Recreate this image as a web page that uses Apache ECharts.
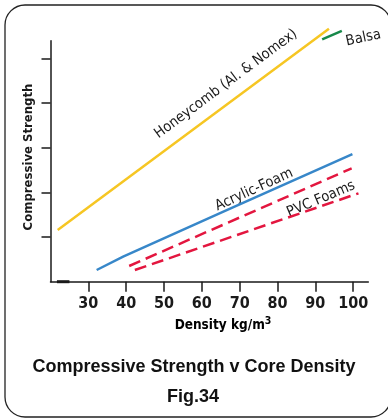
<!DOCTYPE html>
<html>
<head>
<meta charset="utf-8">
<script src="https://cdn.jsdelivr.net/npm/echarts@6/dist/echarts.min.js"></script>
<style>
html,body{margin:0;padding:0;background:#fff;}
#c{width:388px;height:420px;}
</style>
</head>
<body>
<div id="c"></div>
<script>
// ---- data (density kg/m3, relative compressive strength) ----
var xTicks = [30, 40, 50, 60, 70, 80, 90, 100];
var yTicks = [1, 2, 3, 4, 5];
var honeycomb = [[21.9, 1.16], [93.6, 5.67]];
var balsa = [[91.8, 5.43], [97.0, 5.62]];
var acrylic = [[32.2, 0.262], [39.2, 0.56], [65.7, 1.57], [99.8, 2.857]];
var pvcUpper = [[40.8, 0.352], [99.6, 2.54]];
var pvcLower = [[42.3, 0.262], [101.4, 1.98]];
var baseMark = [[21.7, 0], [25.0, 0]];
var lineLabels = [
  { text: 'Honeycomb (Al. & Nomex)', at: [66.4, 4.43], angle: 36.5 },
  { text: 'Acrylic-Foam', at: [73.8, 2.06], angle: 24.5 },
  { text: 'PVC Foams', at: [91.5, 1.85], angle: 23 },
  { text: 'Balsa', at: [102.7, 5.46], angle: 12 }
];
var titleText = 'Compressive Strength v Core Density';
var figText = 'Fig.34';
var xName = 'Density kg/m';
var yName = 'Compressive Strength';

var NARROW = "'Liberation Sans Narrow', 'DejaVu Sans Condensed', sans-serif";
var ARIAL = "'Liberation Sans', Arial, sans-serif";
var INK = '#1a1a1a';

var chart = echarts.init(document.getElementById('c'), null, { renderer: 'canvas' });

function lineSeries(data, color, type, width) {
  return {
    type: 'line', data: data, symbol: 'none', silent: true, clip: false,
    animation: false,
    lineStyle: { color: color, width: width || 2.5, type: type || 'solid', cap: 'butt' }
  };
}

var option = {
  animation: false,
  grid: { left: 50.5, top: 40.7, right: 19.7, bottom: 138.3, containLabel: false },
  xAxis: {
    type: 'value', min: 20, max: 104,
    axisLine: { show: true, lineStyle: { color: INK, width: 1.5 } },
    axisTick: { show: true, customValues: xTicks, length: 10, lineStyle: { color: INK, width: 1.5 } },
    axisLabel: { show: true, customValues: xTicks, margin: 14, fontFamily: NARROW, fontWeight: 'bold', fontSize: 16, color: INK },
    splitLine: { show: false }
  },
  yAxis: {
    type: 'value', min: 0, max: 5.4,
    axisLine: { show: true, lineStyle: { color: INK, width: 1.5 } },
    axisTick: { show: true, customValues: yTicks, length: 9, lineStyle: { color: INK, width: 1.5 } },
    axisLabel: { show: false },
    splitLine: { show: false }
  },
  series: [
    lineSeries(honeycomb, '#f6c623'),
    lineSeries(balsa, '#17894a'),
    lineSeries(acrylic, '#3787c9'),
    lineSeries(pvcUpper, '#e3163f', [12, 6]),
    lineSeries(pvcLower, '#e3163f', [12, 6]),
    lineSeries(baseMark, INK, 'solid', 3)
  ]
};
chart.setOption(option);

var graphics = [
  { type: 'rect', shape: { x: 5, y: 5, width: 386, height: 412, r: 20 },
    style: { fill: 'none', stroke: '#222', lineWidth: 1.3 }, silent: true },
  { type: 'text', x: 29, y: 157, rotation: Math.PI / 2,
    style: { text: yName, font: 'bold 13px ' + NARROW, fill: INK, textAlign: 'center', textVerticalAlign: 'middle' } },
  { type: 'text', x: 223, y: 325,
    style: { text: '{a|' + xName + '}{s|3}', textAlign: 'center', textVerticalAlign: 'middle',
      rich: { a: { fontFamily: NARROW, fontWeight: 'bold', fontSize: 13.5, color: INK },
              s: { fontFamily: NARROW, fontWeight: 'bold', fontSize: 10.5, color: INK, padding: [0, 0, 7, 0] } } } },
  { type: 'text', x: 194, y: 367,
    style: { text: titleText, font: 'bold 18px ' + ARIAL, fill: '#111', textAlign: 'center', textVerticalAlign: 'middle' } },
  { type: 'text', x: 193, y: 397,
    style: { text: figText, font: 'bold 18px ' + ARIAL, fill: '#111', textAlign: 'center', textVerticalAlign: 'middle' } }
];
lineLabels.forEach(function (l) {
  var p = chart.convertToPixel({ gridIndex: 0 }, l.at);
  graphics.push({ type: 'text', x: p[0], y: p[1], rotation: l.angle * Math.PI / 180,
    style: { text: l.text, font: '14.5px ' + NARROW, fill: INK, textAlign: 'center', textVerticalAlign: 'middle' } });
});
chart.setOption({ graphic: graphics });
</script>
</body>
</html>
